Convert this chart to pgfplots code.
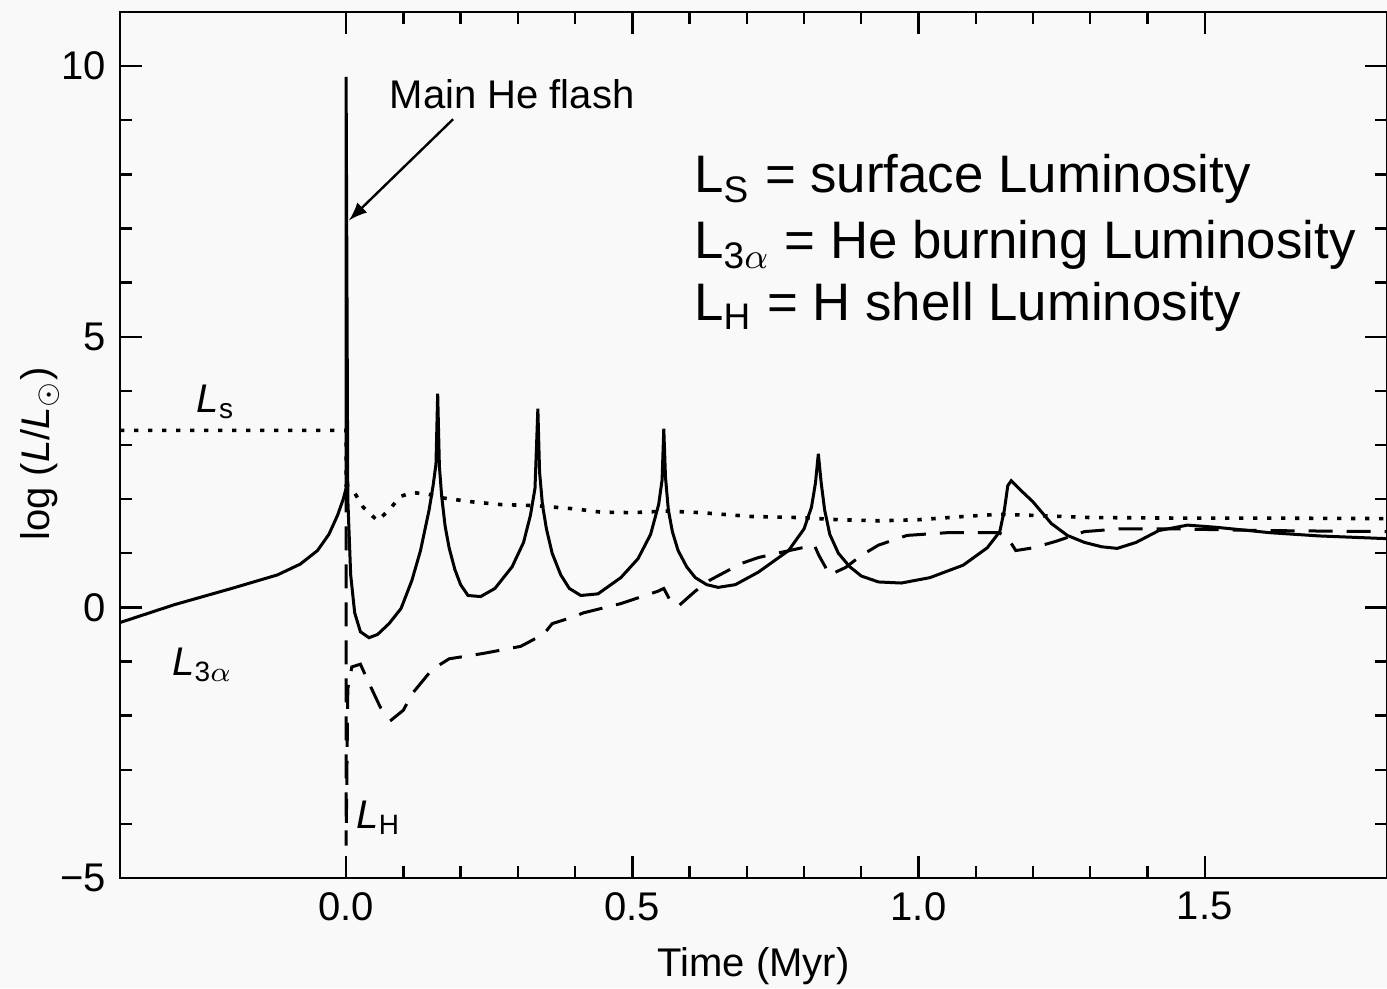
\documentclass[border=0pt]{standalone}
\usepackage{pgfplots}
\pgfplotsset{compat=1.18}
\usepackage{fontspec}
\setmainfont{Liberation Sans}
\definecolor{bg}{RGB}{249,249,249}
\begin{document}
\begin{tikzpicture}
\fill[bg] (-30pt,-27.5pt) rectangle (316.75pt,219.5pt);
\begin{axis}[
  scale only axis,
  width=316.75pt, height=216.5pt,
  xmin=-0.395, xmax=1.8185,
  ymin=-5, ymax=11,
  xtick={0,0.5,1,1.5}, xticklabels={0.0,0.5,1.0,1.5},
  ytick={-5,0,5,10}, yticklabels={−5,0,5,10},
  minor x tick num=4, minor y tick num=4,
  tick pos=both, tick align=inside,
  major tick length=5.5pt, minor tick length=3pt,
  tick style={black, line width=0.6pt},
  axis line style={line width=0.7pt},
  ticklabel style={font=\fontsize{10}{12}\selectfont},
  xlabel={Time (Myr)}, ylabel={log (\textit{L}/\textit{L}\textsubscript{$\odot$})},
  label style={font=\fontsize{10}{12}\selectfont},
  ylabel style={at={(rel axis cs:0,0.49)}, anchor=center, yshift=20pt},
  clip=false,
]
% L_3alpha (solid)
\addplot[black, line width=0.75pt] coordinates {
(-0.395,-0.28) (-0.30,0.05) (-0.20,0.35) (-0.12,0.60) (-0.08,0.80) (-0.05,1.05)
(-0.03,1.35) (-0.015,1.70) (-0.005,2.0) (0,2.2) (0,9.8) (0.003,2.0) (0.008,0.6)
(0.015,-0.1) (0.025,-0.45) (0.04,-0.56) (0.055,-0.5) (0.075,-0.3) (0.096,-0.02)
(0.115,0.5) (0.13,1.05) (0.145,1.8) (0.152,2.25) (0.157,2.65) (0.160,3.95)
(0.163,2.6) (0.167,2.05) (0.173,1.5) (0.18,1.1) (0.19,0.7) (0.2,0.42) (0.213,0.22)
(0.235,0.2) (0.26,0.35) (0.29,0.75) (0.31,1.2) (0.322,1.7) (0.33,2.2)
(0.335,3.67) (0.338,2.5) (0.343,1.9) (0.35,1.45) (0.36,1.0) (0.375,0.6) (0.39,0.35)
(0.41,0.22) (0.44,0.25) (0.48,0.55) (0.51,0.9) (0.532,1.35) (0.546,1.9)
(0.552,2.35) (0.555,3.3) (0.558,2.4) (0.563,1.8) (0.57,1.4) (0.58,1.05) (0.595,0.75)
(0.61,0.55) (0.63,0.42) (0.65,0.37) (0.68,0.42) (0.72,0.65) (0.773,1.05)
(0.80,1.45) (0.813,1.85) (0.82,2.3) (0.825,2.84) (0.83,2.3) (0.836,1.8)
(0.845,1.35) (0.86,1.0) (0.88,0.75) (0.9,0.58) (0.93,0.47) (0.97,0.45) (1.02,0.55)
(1.078,0.78) (1.12,1.1) (1.142,1.4) (1.15,1.8) (1.156,2.25) (1.162,2.34)
(1.18,2.15) (1.20,1.95) (1.232,1.55) (1.26,1.33) (1.29,1.2) (1.32,1.12)
(1.347,1.09) (1.38,1.2) (1.42,1.42) (1.47,1.52) (1.52,1.48) (1.614,1.38)
(1.70,1.32) (1.8185,1.27)
};
% L_s (dotted)
\addplot[black, line width=0.9pt, dash pattern=on 1.1pt off 2.4pt] coordinates {
(-0.395,3.27) (0,3.27) (0,2.25) (0.01,2.2) (0.03,1.85) (0.055,1.6) (0.075,1.8)
(0.095,2.05) (0.115,2.12) (0.14,2.1) (0.17,2.02) (0.22,1.95) (0.27,1.9)
(0.33,1.88) (0.4,1.82) (0.445,1.76) (0.5,1.75) (0.56,1.78) (0.62,1.75)
(0.707,1.68) (0.79,1.66) (0.86,1.62) (0.93,1.6) (1.0,1.62) (1.08,1.68)
(1.14,1.72) (1.2,1.7) (1.3,1.66) (1.45,1.65) (1.6,1.65) (1.8185,1.64)
};
% L_H (dashed)
\addplot[black, line width=0.75pt, dash pattern=on 6pt off 3.5pt] coordinates {
(0,2.2) (0,-4.4) (0.003,-1.5) (0.01,-1.1) (0.025,-1.05) (0.04,-1.4) (0.06,-1.85)
(0.079,-2.08) (0.1,-1.9) (0.115,-1.6) (0.15,-1.15) (0.18,-0.95) (0.24,-0.85)
(0.305,-0.72) (0.33,-0.58) (0.345,-0.5) (0.36,-0.3) (0.39,-0.2) (0.415,-0.1)
(0.48,0.07) (0.545,0.3) (0.555,0.35) (0.565,0.15) (0.58,0.02) (0.61,0.3)
(0.635,0.5) (0.69,0.81) (0.72,0.92) (0.757,1.01) (0.796,1.1) (0.818,1.15)
(0.826,0.96) (0.845,0.6) (0.873,0.74) (0.9,0.96) (0.93,1.15) (0.98,1.33)
(1.05,1.38) (1.14,1.38) (1.155,1.3) (1.17,1.05) (1.2,1.1) (1.24,1.22)
(1.29,1.4) (1.35,1.45) (1.45,1.45) (1.6,1.42) (1.8185,1.4)
};
\node[anchor=base west, inner sep=0pt, font=\fontsize{10}{12}\selectfont] at (axis cs:0.075,9.21) {Main He flash};
\draw[-latex, line width=0.6pt] (axis cs:0.187,9.02) -- (axis cs:0.005,7.15);
\node[anchor=base west, inner sep=0pt, font=\fontsize{10}{12}\selectfont] at (axis cs:-0.262,3.6) {\textit{L}\textsubscript{s}};
\node[anchor=base west, inner sep=0pt, font=\fontsize{10}{12}\selectfont] at (axis cs:-0.305,-1.25) {\textit{L}\textsubscript{3$\alpha$}};
\node[anchor=base west, inner sep=0pt, font=\fontsize{10}{12}\selectfont] at (axis cs:0.017,-4.08) {\textit{L}\textsubscript{H}};
\node[anchor=base west, inner sep=0pt, font=\fontsize{13.2}{16}\selectfont] at (axis cs:0.607,7.66) {L\textsubscript{S} = surface Luminosity};
\node[anchor=base west, inner sep=0pt, font=\fontsize{13.2}{16}\selectfont] at (axis cs:0.607,6.44) {L\textsubscript{3$\alpha$} = He burning Luminosity};
\node[anchor=base west, inner sep=0pt, font=\fontsize{13.2}{16}\selectfont] at (axis cs:0.607,5.30) {L\textsubscript{H} = H shell Luminosity};
\end{axis}
\pgfresetboundingbox
\path (-30pt,-27.5pt) rectangle (316.75pt,219.5pt);
\end{tikzpicture}
\end{document}
